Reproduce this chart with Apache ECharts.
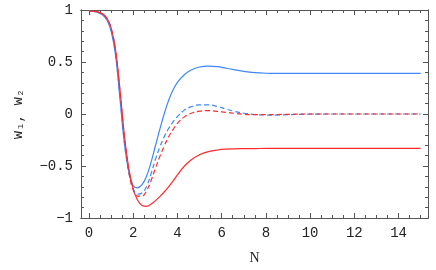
<!DOCTYPE html>
<html><head><meta charset="utf-8">
<script src="https://cdn.jsdelivr.net/npm/echarts@6/dist/echarts.min.js"></script>
<style>html,body{margin:0;padding:0;background:#fff}#c{width:436px;height:270px}</style>
</head><body><div id="c"></div>
<script>
// ---- data ----
const xs = [0,0.3,0.6,0.8,1.0,1.2,1.4,1.6,1.8,2.0,2.2,2.4,2.6,2.8,3.0,3.2,3.4,3.6,3.8,4.0,4.3,4.6,5.0,5.4,5.8,6.2,6.6,7.0,7.5,8,8.5,9,10,11,12,13,14,15];
const blueSolid = [0.99,0.983,0.955,0.91,0.80,0.57,0.15,-0.28,-0.55,-0.69,-0.71,-0.68,-0.60,-0.47,-0.31,-0.15,0.0,0.13,0.23,0.305,0.375,0.42,0.452,0.46,0.455,0.44,0.425,0.41,0.398,0.392,0.39,0.39,0.39,0.39,0.39,0.39,0.39,0.39];
const blueDashed = [0.99,0.983,0.957,0.915,0.81,0.58,0.18,-0.26,-0.56,-0.72,-0.77,-0.76,-0.70,-0.58,-0.44,-0.32,-0.22,-0.14,-0.075,-0.025,0.035,0.068,0.088,0.088,0.072,0.048,0.024,0.007,-0.005,-0.01,-0.01,-0.006,-0.002,0,0,0,0,0];
const redDashed = [0.99,0.985,0.963,0.922,0.825,0.61,0.22,-0.22,-0.55,-0.73,-0.79,-0.79,-0.74,-0.645,-0.525,-0.41,-0.31,-0.22,-0.15,-0.09,-0.03,0.005,0.027,0.032,0.026,0.016,0.006,-0.002,-0.006,-0.006,-0.005,-0.003,0,0,0,0,0,0];
const redSolid = [0.99,0.985,0.965,0.925,0.83,0.62,0.24,-0.20,-0.52,-0.72,-0.83,-0.88,-0.888,-0.868,-0.835,-0.795,-0.75,-0.70,-0.645,-0.585,-0.505,-0.445,-0.392,-0.362,-0.346,-0.338,-0.335,-0.333,-0.332,-0.331,-0.33,-0.33,-0.33,-0.33,-0.33,-0.33,-0.33,-0.33];
const xMajor = [0,2,4,6,8,10,12,14];
const xMinor = [0.5,1,1.5,2.5,3,3.5,4.5,5,5.5,6.5,7,7.5,8.5,9,9.5,10.5,11,11.5,12.5,13,13.5,14.5,15];
const yMajor = [-1,-0.5,0,0.5,1];
const yMajorLabels = ['\u22121','\u22120.5','0','0.5','1'];
const yMinor = [-0.9,-0.8,-0.7,-0.6,-0.4,-0.3,-0.2,-0.1,0.1,0.2,0.3,0.4,0.6,0.7,0.8,0.9];
const xTitle = 'N';
const yTitle = 'w\u2081, w\u2082';

// ---- chart ----
const frameColor = '#555';
const BLUE = '#3f86f7', RED = '#ff2b2b';
const labelFont = {fontFamily:'"Liberation Mono","DejaVu Sans Mono",monospace', fontSize:14, color:'#222'};
function xAx(pos, vals, len, labels, extra){
  return Object.assign({type:'value', position:pos, min:-0.36, max:15.33, gridIndex:0,
    axisLine:{show:true, onZero:false, lineStyle:{color:frameColor,width:1}},
    axisTick:{show:true, inside:true, length:len, customValues:vals, lineStyle:{color:frameColor,width:1}},
    axisLabel:labels ? Object.assign({show:true, customValues:vals, margin:8}, labelFont) : {show:false},
    splitLine:{show:false}}, extra||{});
}
function yAx(pos, vals, len, labels, extra){
  return Object.assign({type:'value', position:pos, min:-1, max:1, gridIndex:0,
    axisLine:{show:true, onZero:false, lineStyle:{color:frameColor,width:1}},
    axisTick:{show:true, inside:true, length:len, customValues:vals, lineStyle:{color:frameColor,width:1}},
    axisLabel:labels ? Object.assign({show:true, customValues:vals, margin:8,
      formatter:v=>{const i=yMajor.findIndex(t=>Math.abs(t-v)<1e-9);return i>=0?yMajorLabels[i]:'';}}, labelFont) : {show:false},
    splitLine:{show:false}}, extra||{});
}
const chart = echarts.init(document.getElementById('c'), null, {renderer:'canvas'});
function mk(ys){return xs.map((x,i)=>[x,ys[i]]);}
function ser(ys,color,dashed){
  return {type:'line', xAxisIndex:0, yAxisIndex:0, data:mk(ys), showSymbol:false, smooth:0.4,
    lineStyle:{color:color, width:1.2, type: dashed?[5,3]:'solid'}, z:dashed?3:2, animation:false};
}
chart.setOption({
  animation:false,
  grid:{left:81, top:10, width:347, height:212, containLabel:false},
  xAxis:[
    xAx('bottom', xMajor, 5, true, {name:xTitle, nameLocation:'middle', nameGap:33,
      nameTextStyle:{fontFamily:'"Liberation Serif","DejaVu Serif",serif', fontSize:14, color:'#222'}}),
    xAx('bottom', xMinor, 3, false),
    xAx('top', xMajor, 5, false),
    xAx('top', xMinor, 3, false)
  ],
  yAxis:[
    yAx('left', yMajor, 5, true, {name:yTitle, nameLocation:'middle', nameGap:56, nameRotate:90,
      nameTextStyle:{fontFamily:'"Liberation Mono","DejaVu Sans Mono",monospace', fontSize:14, color:'#222'}}),
    yAx('left', yMinor, 3, false),
    yAx('right', yMajor, 5, false),
    yAx('right', yMinor, 3, false)
  ],
  series:[
    ser(blueSolid, BLUE, false),
    ser(redSolid, RED, false),
    ser(blueDashed, BLUE, true),
    ser(redDashed, RED, true)
  ]
});
</script></body></html>
